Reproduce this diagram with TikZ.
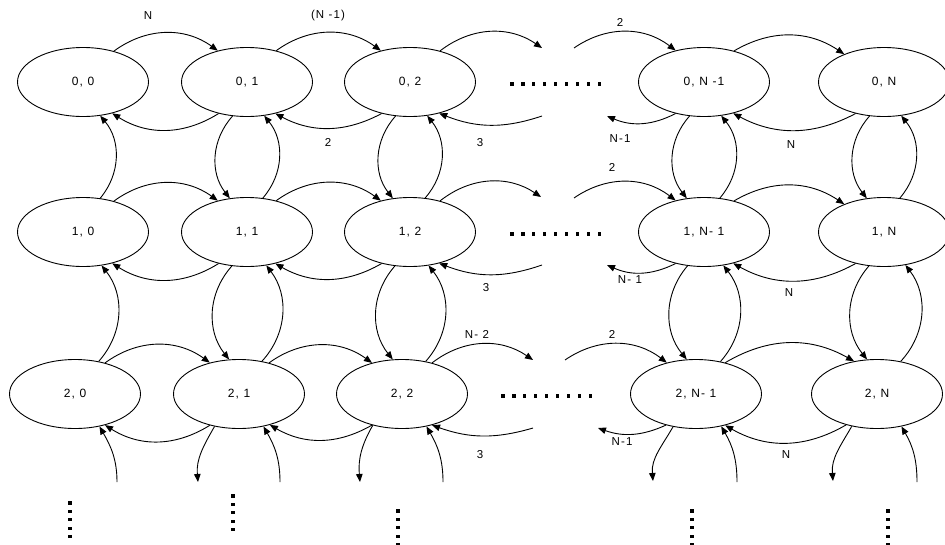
\documentclass[tikz,border=0pt]{standalone}
\usepackage{fontspec}
\setmainfont{Liberation Sans}[LetterSpace=10]
\usetikzlibrary{arrows.meta,shapes.geometric}

\begin{document}
\begin{tikzpicture}[x=1pt,y=-1pt,
  state/.style={ellipse,draw,line width=0.9pt,minimum width=131pt,minimum height=69pt,
                inner sep=0pt,font=\fontsize{12}{14}\selectfont},
  flow/.style={line width=0.9pt,-{Triangle[length=8pt,width=6.5pt]}},
  lab/.style={font=\fontsize{11.5}{13}\selectfont,inner sep=0pt},
  sq/.style={fill=black}
]
\useasboundingbox (0,0) rectangle (945,544);

% states (i, j)
\node[state] (n00) at (83,82)  {0, 0};
\node[state] (n01) at (247,82) {0, 1};
\node[state] (n02) at (410,82) {0, 2};
\node[state] (n0a) at (704,82) {0, N -1};
\node[state] (n0b) at (884,82) {0, N};

\node[state] (n10) at (83,232)  {1, 0};
\node[state] (n11) at (247,232) {1, 1};
\node[state] (n12) at (410,232) {1, 2};
\node[state] (n1a) at (704,232) {1, N- 1};
\node[state] (n1b) at (884,232) {1, N};

\node[state] (n20) at (75,394)  {2, 0};
\node[state] (n21) at (239,394) {2, 1};
\node[state] (n22) at (402,394) {2, 2};
\node[state] (n2a) at (696,394) {2, N- 1};
\node[state] (n2b) at (877,394) {2, N};

% horizontal ellipsis rows
\foreach \yy/\xs in {84/512,234/512,396/503}
  \foreach \k in {0,...,8}
    \fill[sq] ({\xs+10.9*\k-1.6},\yy-1.6) rectangle ++(3.2,3.2);

% vertical ellipsis columns
\foreach \xx/\ys in {70/503,233/496,398/511,692/511,888/511}
  \foreach \k in {0,...,4}
    \fill[sq] (\xx-1.6,{\ys+8.4*\k-1.6}) rectangle ++(3.2,3.2);

% free ends next to the ellipses
\coordinate (r0fo) at (542,48);  \coordinate (r0fi) at (574,48);
\coordinate (r0bo) at (542,116); \coordinate (r0bi) at (607,116);
\coordinate (r1fo) at (541,197); \coordinate (r1fi) at (574,198);
\coordinate (r1bo) at (542,265); \coordinate (r1bi) at (607,265);
\coordinate (r2fo) at (533,360); \coordinate (r2fi) at (565,360);
\coordinate (r2bo) at (533,428); \coordinate (r2bi) at (598,428);
\coordinate (b0u) at (117,482);
\coordinate (b1d) at (198,482); \coordinate (b1u) at (280,482);
\coordinate (b2d) at (360,482); \coordinate (b2u) at (443,482);
\coordinate (b3d) at (653,481); \coordinate (b3u) at (737,482);
\coordinate (b4d) at (833,481); \coordinate (b4u) at (917,482);

% row 0
\draw[flow] (n00.45) to[bend left=36] (n01.133);
\draw[flow] (n01.47) to[bend left=36] (n02.133);
\draw[flow] (n02.46) to[bend left=36] (r0fo);
\draw[flow] (r0fi) to[bend left=36] (n0a.132);
\draw[flow] (n0a.46) to[bend left=32] (n0b.145);
\draw[flow] (n01.-132) to[bend left=32] (n00.-47);
\draw[flow] (n02.-132) to[bend left=28] (n01.-48);
\draw[flow] (r0bo) to[bend left=20] (n02.-47);
\draw[flow] (n0a.-132) to[bend left=25] (r0bi);
\draw[flow] (n0b.-132) to[bend left=28] (n0a.-47);

% row 1
\draw[flow] (n10.45) to[bend left=36] (n11.133);
\draw[flow] (n11.47) to[bend left=36] (n12.133);
\draw[flow] (n12.46) to[bend left=36] (r1fo);
\draw[flow] (r1fi) to[bend left=36] (n1a.132);
\draw[flow] (n1a.46) to[bend left=32] (n1b.145);
\draw[flow] (n11.-132) to[bend left=32] (n10.-47);
\draw[flow] (n12.-132) to[bend left=30] (n11.-48);
\draw[flow] (r1bo) to[bend left=20] (n12.-47);
\draw[flow] (n1a.-132) to[bend left=25] (r1bi);
\draw[flow] (n1b.-132) to[bend left=29] (n1a.-47);

% row 2
\draw[flow] (n20.46) to[bend left=36] (n21.133);
\draw[flow] (n21.46) to[bend left=36] (n22.134);
\draw[flow] (n22.46) to[bend left=36] (r2fo);
\draw[flow] (r2fi) to[bend left=36] (n2a.133);
\draw[flow] (n2a.47) to[bend left=30] (n2b.125);
\draw[flow] (n21.-133) to[bend left=32] (n20.-46);
\draw[flow] (n22.-134) to[bend left=30] (n21.-45);
\draw[flow] (r2bo) to[bend left=18] (n22.-46);
\draw[flow] (n2a.-134) to[bend left=22] (r2bi);
\draw[flow] (n2b.-135) to[bend left=30] (n2a.-47);

% between rows 0 and 1
\draw[flow] (n10.63) to[bend right=40] (n00.-63);
\draw[flow] (n01.-113) to[bend right=40] (n11.117);
\draw[flow] (n11.65) to[bend right=40] (n01.-63);
\draw[flow] (n02.-113) to[bend right=40] (n12.117);
\draw[flow] (n12.66) to[bend right=40] (n02.-63);
\draw[flow] (n0a.-113) to[bend right=40] (n1a.117);
\draw[flow] (n1a.65) to[bend right=40] (n0a.-63);
\draw[flow] (n0b.-113) to[bend right=40] (n1b.117);
\draw[flow] (n1b.65) to[bend right=40] (n0b.-63);

% between rows 1 and 2
\draw[flow] (n20.54) to[bend right=40] (n10.-61);
\draw[flow] (n11.-114) to[bend right=40] (n21.106);
\draw[flow] (n21.55) to[bend right=40] (n11.-60);
\draw[flow] (n12.-114) to[bend right=40] (n22.105);
\draw[flow] (n22.54) to[bend right=40] (n12.-61);
\draw[flow] (n1a.-116) to[bend right=40] (n2a.105);
\draw[flow] (n2a.53) to[bend right=40] (n1a.-60);
\draw[flow] (n1b.-114) to[bend right=40] (n2b.106);
\draw[flow] (n2b.54) to[bend right=40] (n1b.-57);

% below row 2
\draw[flow] (b0u) to[out=90,in=-60] (n20.-53);
\draw[flow] (n21.-127) to[out=-120,in=95] (b1d);
\draw[flow] (b1u) to[out=90,in=-60] (n21.-53);
\draw[flow] (n22.-133) to[out=-120,in=95] (b2d);
\draw[flow] (b2u) to[out=90,in=-60] (n22.-53);
\draw[flow] (n2a.-125) to[out=-120,in=95] (b3d);
\draw[flow] (b3u) to[out=90,in=-60] (n2a.-52);
\draw[flow] (n2b.-128) to[out=-120,in=95] (b4d);
\draw[flow] (b4u) to[out=90,in=-60] (n2b.-53);

% rates
\node[lab] (t01) at (148,16)  {N};
\node[lab] (t02) at (328,16)  {(N -1)};
\node[lab] (t03) at (620,22)  {2};
\node[lab] (t04) at (328,142) {2};
\node[lab] (t05) at (480,143) {3};
\node[lab] (t06) at (620,139) {N-1};
\node[lab] (t07) at (791,145) {N};
\node[lab] (t11) at (612,167) {2};
\node[lab] (t12) at (486,288) {3};
\node[lab] (t13) at (630,280) {N- 1};
\node[lab] (t14) at (789,293) {N};
\node[lab] (t21) at (477,334) {N- 2};
\node[lab] (t22) at (612,334) {2};
\node[lab] (t23) at (480,455) {3};
\node[lab] (t24) at (622,442) {N-1};
\node[lab] (t25) at (786,455) {N};
\end{tikzpicture}
\end{document}
